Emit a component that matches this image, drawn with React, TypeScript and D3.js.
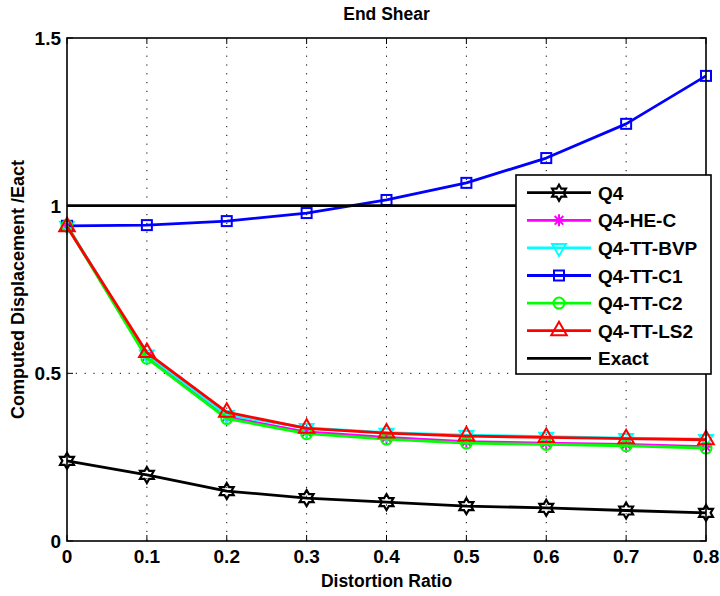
import React from "react";
import * as d3 from "d3";

const ratios = [0, 0.1, 0.2, 0.3, 0.4, 0.5, 0.6, 0.7, 0.8];
const q4 = [0.239, 0.197, 0.149, 0.128, 0.116, 0.104, 0.099, 0.091, 0.084];
const q4HEC = [0.94, 0.55, 0.37, 0.325, 0.309, 0.296, 0.292, 0.288, 0.281];
const q4BVP = [0.94, 0.556, 0.376, 0.337, 0.323, 0.316, 0.311, 0.307, 0.304];
const q4C1 = [0.94, 0.942, 0.954, 0.978, 1.017, 1.068, 1.142, 1.244, 1.387];
const q4C2 = [0.94, 0.545, 0.365, 0.32, 0.304, 0.292, 0.288, 0.284, 0.277];
const q4LS2 = [0.937, 0.562, 0.384, 0.336, 0.322, 0.313, 0.309, 0.305, 0.302];
const exactValue = 1;
const xTicks = [0, 0.1, 0.2, 0.3, 0.4, 0.5, 0.6, 0.7, 0.8];
const yTicks = [0, 0.5, 1, 1.5];
const yTickLabels = ["0", "0.5", "1", "1.5"];

type Marker = "hexagram" | "asterisk" | "tridown" | "square" | "circle" | "triup" | "none";

const series: { name: string; values: number[]; color: string; marker: Marker }[] = [
  { name: "Q4", values: q4, color: "#000000", marker: "hexagram" },
  { name: "Q4-HE-C", values: q4HEC, color: "#ff00ff", marker: "asterisk" },
  { name: "Q4-TT-BVP", values: q4BVP, color: "#00ffff", marker: "tridown" },
  { name: "Q4-TT-C1", values: q4C1, color: "#0000ff", marker: "square" },
  { name: "Q4-TT-C2", values: q4C2, color: "#00ff00", marker: "circle" },
  { name: "Q4-TT-LS2", values: q4LS2, color: "#ff0000", marker: "triup" },
];

const W = 720;
const H = 596;
const L = 67, R = 706, T = 38, B = 541;
const FONT = "'Liberation Sans', Arial, Helvetica, sans-serif";

function hexPath(r: number) {
  const ri = r / Math.sqrt(3);
  const pts: string[] = [];
  for (let i = 0; i < 12; i++) {
    const a = (Math.PI / 6) * i - Math.PI / 2;
    const rr = i % 2 === 0 ? r : ri;
    pts.push(`${(rr * Math.cos(a)).toFixed(2)},${(rr * Math.sin(a)).toFixed(2)}`);
  }
  return "M" + pts.join("L") + "Z";
}

function MarkerShape({ type, x, y, color }: { type: Marker; x: number; y: number; color: string }) {
  const sw = 2;
  switch (type) {
    case "hexagram":
      return <path d={hexPath(8)} transform={`translate(${x},${y})`} fill="none" stroke={color} strokeWidth={2.2} />;
    case "asterisk": {
      const r = 6;
      const d = r * 0.72;
      return (
        <g transform={`translate(${x},${y})`} stroke={color} strokeWidth={sw}>
          <line x1={-r} y1={0} x2={r} y2={0} />
          <line x1={0} y1={-r} x2={0} y2={r} />
          <line x1={-d} y1={-d} x2={d} y2={d} />
          <line x1={-d} y1={d} x2={d} y2={-d} />
        </g>
      );
    }
    case "tridown": {
      const r = 8;
      const p = d3.path();
      p.moveTo(0, r);
      p.lineTo(r * 0.866, -r * 0.5);
      p.lineTo(-r * 0.866, -r * 0.5);
      p.closePath();
      return <path d={p.toString()} transform={`translate(${x},${y})`} fill="none" stroke={color} strokeWidth={sw} />;
    }
    case "triup": {
      const r = 9;
      const p = d3.path();
      p.moveTo(0, -r);
      p.lineTo(r * 0.866, r * 0.5);
      p.lineTo(-r * 0.866, r * 0.5);
      p.closePath();
      return <path d={p.toString()} transform={`translate(${x},${y})`} fill="none" stroke={color} strokeWidth={sw} />;
    }
    case "square":
      return <rect x={x - 5} y={y - 5} width={10} height={10} fill="none" stroke={color} strokeWidth={sw} />;
    case "circle":
      return <circle cx={x} cy={y} r={5.5} fill="none" stroke={color} strokeWidth={sw} />;
    default:
      return null;
  }
}

export default function App() {
  const x = d3.scaleLinear().domain([0, 0.8]).range([L, R]);
  const y = d3.scaleLinear().domain([0, 1.5]).range([B, T]);
  const line = d3
    .line<number>()
    .x((_, i) => x(ratios[i]))
    .y((d) => y(d));

  const legendX = 516, legendY = 175, legendW = 195, legendH = 199;
  const rowY0 = 192.7, rowStep = 27.6;
  const legendItems = [
    ...series.map((s) => ({ name: s.name, color: s.color, marker: s.marker })),
    { name: "Exact", color: "#000000", marker: "none" as Marker },
  ];

  return (
    <svg width={W} height={H} style={{ position: "absolute", left: 0, top: 0, background: "#fff" }} fontFamily={FONT}>
      <rect x={0} y={0} width={W} height={H} fill="#fff" />
      {/* grid */}
      {xTicks.slice(1, -1).map((t) => (
        <line key={"gx" + t} x1={x(t)} x2={x(t)} y1={T} y2={B} stroke="#000" strokeWidth={1} strokeDasharray="1.2 7.6" />
      ))}
      {yTicks.slice(1, -1).map((t) => (
        <line key={"gy" + t} x1={L} x2={R} y1={y(t)} y2={y(t)} stroke="#000" strokeWidth={1} strokeDasharray="1.2 7.6" />
      ))}
      {/* ticks */}
      {xTicks.map((t) => (
        <g key={"tx" + t}>
          <line x1={x(t)} x2={x(t)} y1={B} y2={B - 6} stroke="#000" strokeWidth={1} />
          <line x1={x(t)} x2={x(t)} y1={T} y2={T + 6} stroke="#000" strokeWidth={1} />
          <text x={x(t)} y={B + 22} textAnchor="middle" fontSize={19} fontWeight="bold">
            {String(t)}
          </text>
        </g>
      ))}
      {yTicks.map((t, i) => (
        <g key={"ty" + t}>
          <line x1={L} x2={L + 6} y1={y(t)} y2={y(t)} stroke="#000" strokeWidth={1} />
          <line x1={R} x2={R - 6} y1={y(t)} y2={y(t)} stroke="#000" strokeWidth={1} />
          <text x={L - 6} y={y(t) + 7} textAnchor="end" fontSize={19} fontWeight="bold">
            {yTickLabels[i]}
          </text>
        </g>
      ))}
      {/* series */}
      {series.map((s) => (
        <g key={s.name}>
          <path d={line(s.values) || ""} fill="none" stroke={s.color} strokeWidth={2.8} strokeLinejoin="round" />
          {s.values.map((v, i) => (
            <MarkerShape key={i} type={s.marker} x={x(ratios[i])} y={y(v)} color={s.color} />
          ))}
        </g>
      ))}
      <line x1={x(0)} x2={x(0.8)} y1={y(exactValue)} y2={y(exactValue)} stroke="#000" strokeWidth={2.8} />
      {/* axes box */}
      <rect x={L} y={T} width={R - L} height={B - T} fill="none" stroke="#000" strokeWidth={1.6} />
      {/* title & labels */}
      <text x={(L + R) / 2} y={20} textAnchor="middle" fontSize={17.5} fontWeight="bold">
        End Shear
      </text>
      <text x={(L + R) / 2} y={587} textAnchor="middle" fontSize={17.5} fontWeight="bold">
        Distortion Ratio
      </text>
      <text
        transform={`translate(24,${(T + B) / 2}) rotate(-90)`}
        textAnchor="middle"
        fontSize={18}
        fontWeight="bold"
      >
        Computed Displacement /Eact
      </text>
      {/* legend */}
      <rect x={legendX} y={legendY} width={legendW} height={legendH} fill="#fff" stroke="#000" strokeWidth={1.6} />
      {legendItems.map((it, i) => {
        const ry = rowY0 + i * rowStep;
        return (
          <g key={it.name}>
            <line x1={527} x2={591} y1={ry} y2={ry} stroke={it.color} strokeWidth={2.8} />
            <MarkerShape type={it.marker} x={559} y={ry} color={it.color} />
            <text x={598} y={ry + 7} fontSize={19} fontWeight="bold">
              {it.name}
            </text>
          </g>
        );
      })}
    </svg>
  );
}
